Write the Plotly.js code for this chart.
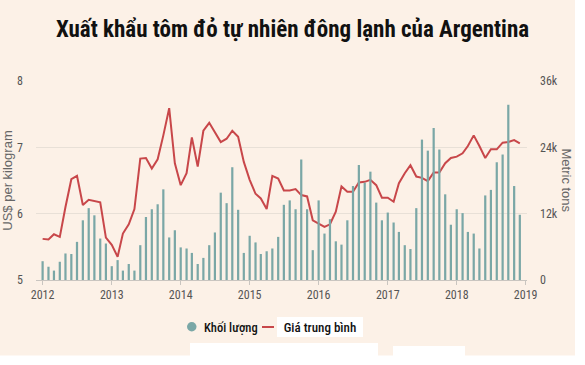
<!DOCTYPE html>
<html>
<head>
<meta charset="utf-8">
<script src="https://cdn.plot.ly/plotly-3.0.1.min.js"></script>
<style>
  html, body { margin: 0; padding: 0; background: #ffffff; }
  #chart { width: 585px; height: 365px; }
</style>
</head>
<body>
<div id="chart"></div>
<script>
// ---- Data ----
const startYear = 2012;
const yearLabels = ['2012', '2013', '2014', '2015', '2016', '2017', '2018', '2019'];

// Khối lượng (thousand metric tons), monthly Jan 2012 - Dec 2018
const volume2012 = [3.4, 2.4, 1.7, 3.3, 4.8, 4.7, 6.9, 10.8, 13.0, 11.7, 7.5, 6.6];
const volume2013 = [2.5, 3.6, 1.7, 2.9, 1.7, 6.3, 11.4, 12.8, 13.7, 16.4, 7.7, 9.0];
const volume2014 = [5.9, 5.7, 4.9, 2.9, 4.0, 6.3, 8.6, 15.8, 13.9, 20.4, 12.7, 4.9];
const volume2015 = [8.0, 6.8, 4.7, 5.2, 5.7, 7.8, 13.6, 14.4, 12.8, 21.8, 12.8, 5.4];
const volume2016 = [14.4, 8.4, 11.0, 7.0, 6.4, 10.8, 17.0, 20.8, 17.6, 19.6, 14.0, 10.8];
const volume2017 = [12.2, 10.4, 8.7, 6.3, 5.6, 13.0, 25.4, 23.4, 27.5, 23.6, 15.5, 10.0];
const volume2018 = [12.8, 12.1, 8.7, 8.4, 5.7, 15.3, 16.3, 21.3, 22.7, 31.7, 17.0, 11.8];

// Giá trung bình (US$ per kilogram)
const price2012 = [5.62, 5.61, 5.69, 5.65, 6.10, 6.52, 6.57, 6.13, 6.21, 6.19, 6.17, 5.64];
const price2013 = [5.53, 5.35, 5.70, 5.84, 6.07, 6.83, 6.84, 6.68, 6.82, 7.18, 7.59, 6.76];
const price2014 = [6.43, 6.61, 7.15, 6.71, 7.25, 7.37, 7.23, 7.08, 7.13, 7.25, 7.16, 6.78];
const price2015 = [6.51, 6.30, 6.23, 6.07, 6.57, 6.53, 6.35, 6.35, 6.37, 6.28, 6.26, 5.90];
const price2016 = [5.85, 5.80, 5.84, 6.03, 6.41, 6.33, 6.33, 6.47, 6.48, 6.51, 6.43, 6.24];
const price2017 = [6.24, 6.18, 6.46, 6.61, 6.73, 6.56, 6.54, 6.49, 6.62, 6.62, 6.76, 6.84];
const price2018 = [6.86, 6.91, 7.02, 7.18, 7.02, 6.84, 6.97, 6.97, 7.07, 7.08, 7.11, 7.06];

const volumeTickVals = [0, 12, 24, 36];
const volumeTickText = ['0', '12k', '24k', '36k'];
const priceTickVals = [5, 6, 7, 8];

const titleText = 'Xuất khẩu tôm đỏ tự nhiên đông lạnh của Argentina';
const volumeName = 'Khối lượng';
const priceName = 'Giá trung bình';

// ---- Build series ----
const volume = [].concat(volume2012, volume2013, volume2014, volume2015, volume2016, volume2017, volume2018);
const price = [].concat(price2012, price2013, price2014, price2015, price2016, price2017, price2018);
const months = volume.map((_, i) => {
  const y = startYear + Math.floor(i / 12);
  const m = (i % 12) + 1;
  return y + '-' + (m < 10 ? '0' + m : m) + '-01';
});

// ---- Styling ----
const BG = '#fcf1e7';
const TEAL = '#7aa7a6';
const RED = '#c8474a';
const NARROW = '"Liberation Sans Narrow", "Arial Narrow", "Roboto Condensed", Arial, sans-serif';
const SANS = 'Arial, "Liberation Sans", sans-serif';

// pixel -> paper helpers (plot area: x 36..527, y 81..280)
const PL = 36, PR = 527, PT = 81, PB = 280;
const px = v => (v - PL) / (PR - PL);
const py = v => (PB - v) / (PB - PT);

const traces = [
  { type: 'bar', x: months, y: volume, yaxis: 'y2', name: volumeName,
    marker: { color: TEAL }, showlegend: false },
  { type: 'scatter', mode: 'lines', x: months, y: price, name: priceName,
    line: { color: RED, width: 2 }, showlegend: false }
];

function box(x0, x1, y0, y1) {
  return { type: 'rect', xref: 'paper', yref: 'paper', layer: 'above',
    x0: px(x0), x1: px(x1), y0: py(y1), y1: py(y0),
    fillcolor: '#ffffff', line: { width: 0 } };
}

const layout = {
  width: 585, height: 365,
  paper_bgcolor: BG, plot_bgcolor: BG,
  margin: { l: PL, r: 585 - PR, t: PT, b: 365 - PB, pad: 0 },
  bargap: 0.58,
  showlegend: false,
  title: {
    text: '<b>' + titleText + '</b>',
    font: { family: NARROW, size: 23, color: '#111111' },
    x: 0.5, xanchor: 'center', y: 1 - 29 / 365, yanchor: 'middle'
  },
  xaxis: {
    type: 'date', range: ['2011-11-27', '2019-01-08'],
    tickvals: yearLabels.map(y => y + '-01-01'), ticktext: yearLabels,
    showgrid: false, zeroline: false,
    showline: true, linecolor: '#c9c5c0', linewidth: 1,
    ticks: 'outside', ticklen: 4, tickcolor: '#c9c5c0',
    tickfont: { family: NARROW, size: 12, color: '#555555' }
  },
  yaxis: {
    range: [5, 8], tickvals: priceTickVals,
    showgrid: true, gridcolor: '#e8e0d7', gridwidth: 1,
    zeroline: false, showline: false, ticks: '', ticklabelstandoff: 12,
    tickfont: { family: NARROW, size: 12, color: '#555555' },
    title: { text: 'US$ per kilogram', font: { family: SANS, size: 13, color: '#666666' }, standoff: 4 }
  },
  yaxis2: {
    overlaying: 'y', side: 'right', range: [0, 36],
    tickvals: volumeTickVals, ticktext: volumeTickText,
    showgrid: false, zeroline: false, showline: false, ticks: '', ticklabelstandoff: 12,
    tickfont: { family: NARROW, size: 12, color: '#555555' }
  },
  shapes: [
    box(190, 378, 343, 366),
    box(393, 465, 346, 366),
    box(-1, 586, 355.5, 366),
    box(575, 586, -1, 366),
    // legend symbols
    { type: 'circle', xref: 'paper', yref: 'paper',
      x0: px(187), x1: px(196.5), y0: py(331.5), y1: py(322),
      fillcolor: TEAL, line: { width: 0 } },
    { type: 'line', xref: 'paper', yref: 'paper',
      x0: px(262), x1: px(274), y0: py(327), y1: py(327),
      line: { color: RED, width: 2 } }
  ],
  annotations: [
    { text: 'Metric tons', xref: 'paper', yref: 'paper', x: px(566), y: 0.5,
      textangle: 90, showarrow: false, xanchor: 'center', yanchor: 'middle',
      font: { family: SANS, size: 13, color: '#666666' } },
    { text: volumeName, xref: 'paper', yref: 'paper', x: px(202), y: py(327),
      xanchor: 'left', yanchor: 'middle', showarrow: false,
      font: { family: NARROW, size: 12.5, color: '#111111', weight: 500 } },
    { text: priceName, xref: 'paper', yref: 'paper', x: px(277), y: py(327),
      xanchor: 'left', yanchor: 'middle', showarrow: false,
      width: 86, height: 20, align: 'center', valign: 'middle',
      bgcolor: '#ffffff', borderpad: 0, borderwidth: 0,
      font: { family: NARROW, size: 13, color: '#111111', weight: 500 } }
  ]
};

Plotly.newPlot('chart', traces, layout, { displayModeBar: false, staticPlot: true });
</script>
</body>
</html>
